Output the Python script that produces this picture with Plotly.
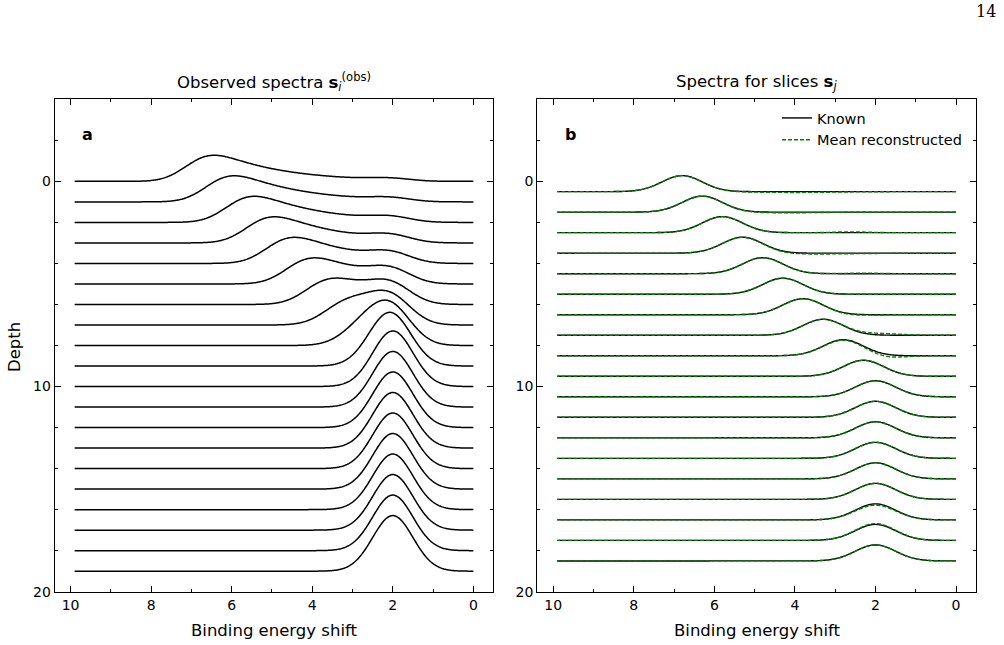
import numpy as np
import plotly.graph_objects as go

# ---------------- data ----------------
# slice spectra s_j : Gaussian peaks, one per slice (depth j + 0.5)
slice_depths = [0.5, 1.5, 2.5, 3.5, 4.5, 5.5, 6.5, 7.5, 8.5, 9.5,
                10.5, 11.5, 12.5, 13.5, 14.5, 15.5, 16.5, 17.5, 18.5]
slice_centers = [6.8, 6.3, 5.8, 5.3, 4.8, 4.3, 3.8, 3.3, 2.8, 2.3,
                 2.0, 2.0, 2.0, 2.0, 2.0, 2.0, 2.0, 2.0, 2.0]
slice_heights = [0.78] * 19
slice_width = 0.5          # Gaussian sigma (energy units)

# mean reconstructed: scale of main peak + small residual bump
recon_scale = [1.0, 1.0, 1.0, 1.0, 1.0, 1.0, 1.0, 0.99, 0.97, 1.0,
               1.0, 1.0, 1.0, 1.0, 1.0, 1.0, 0.92, 1.05, 1.0]
recon_dev_amp = [-0.04, -0.03, 0.04, -0.04, 0.03, 0.0, -0.03, 0.08, -0.1, 0.0,
                 0.0, 0.0, 0.0, 0.0, 0.0, 0.0, 0.0, 0.0, 0.0]
recon_dev_center = [4.0, 4.2, 2.6, 3.5, 2.3, 2.0, 2.5, 1.9, 1.7, 2.0,
                    2.0, 2.0, 2.0, 2.0, 2.0, 2.0, 2.0, 2.0, 2.0]
recon_dev_width = [1.0, 0.9, 0.4, 1.0, 0.4, 0.5, 0.5, 0.5, 0.4, 0.5,
                   0.5, 0.5, 0.5, 0.5, 0.5, 0.5, 0.5, 0.5, 0.5]

# observed spectra s_i^(obs) at depths 0..19: attenuated sums of slices below
obs_depths = list(range(20))
attenuation_factor = 0.73    # weight per slice of depth below
obs_scale = 0.938

x_tick_vals = [0, 2, 4, 6, 8, 10]
y_tick_vals = [0, 10, 20]

# ---------------- build curves ----------------
energy = np.linspace(0.0, 9.9, 500)


def gauss(c, h, s):
    return h * np.exp(-0.5 * ((energy - c) / s) ** 2)


known = [gauss(c, h, slice_width) for c, h in zip(slice_centers, slice_heights)]
recon = [sc * k + gauss(dc, da, dw) for sc, k, da, dc, dw in
         zip(recon_scale, known, recon_dev_amp, recon_dev_center, recon_dev_width)]

n_slices = len(known)
observed = []
for d in obs_depths:
    total = np.zeros_like(energy)
    for k in range(120):
        j = min(d + k, n_slices - 1)
        total += attenuation_factor ** k * known[j]
    observed.append(obs_scale * total)

fig = go.Figure()
for d, sp in zip(obs_depths, observed):
    fig.add_trace(go.Scatter(x=energy, y=d - sp, mode="lines",
                             line=dict(color="black", width=1.5, simplify=False),
                             showlegend=False, hoverinfo="skip",
                             xaxis="x", yaxis="y"))

for i, (d, k) in enumerate(zip(slice_depths, known)):
    fig.add_trace(go.Scatter(x=energy, y=d - k, mode="lines",
                             line=dict(color="black", width=1.4, simplify=False),
                             name="Known", showlegend=(i == 0),
                             hoverinfo="skip", xaxis="x2", yaxis="y2"))
for i, (d, r) in enumerate(zip(slice_depths, recon)):
    fig.add_trace(go.Scatter(x=energy, y=d - r, mode="lines",
                             line=dict(color="#008000", width=1.4, dash="4px,2px",
                                       simplify=False),
                             name="Mean reconstructed", showlegend=(i == 0),
                             hoverinfo="skip", xaxis="x2", yaxis="y2"))

W, H = 1004, 645
xl = [54.7 / W, 493.3 / W]
xr = [537.3 / W, 976.0 / W]
yd = [1 - 591.7 / H, 1 - 99.3 / H]

font = "DejaVu Sans"
TICK = 14
LABEL = 16.5


def xaxis(domain, anchor):
    return dict(domain=domain, anchor=anchor, range=[10.395, -0.495],
                automargin=False,
                tickvals=x_tick_vals, ticks="inside", ticklen=6, tickwidth=1,
                tickcolor="black", showline=True, linecolor="black", linewidth=1.2,
                mirror="allticks", showgrid=False, zeroline=False,
                minor=dict(dtick=1, tick0=0, ticks="inside", ticklen=3,
                           tickcolor="black", tickwidth=1, showgrid=False),
                tickfont=dict(family=font, size=TICK, color="black"))


def yaxis(anchor):
    return dict(domain=yd, anchor=anchor, range=[20, -4],
                automargin=False,
                tickvals=y_tick_vals, ticks="inside", ticklen=6, tickwidth=1,
                tickcolor="black", showline=True, linecolor="black", linewidth=1.2,
                mirror="allticks", showgrid=False, zeroline=False,
                minor=dict(dtick=2, tick0=0, ticks="inside", ticklen=3,
                           tickcolor="black", tickwidth=1, showgrid=False),
                tickfont=dict(family=font, size=TICK, color="black"))


def text(t, x, y, size=LABEL, **kw):
    return dict(text=t, x=x, y=y, xref="paper", yref="paper", xanchor="center",
                yanchor="middle", showarrow=False,
                font=dict(family=font, size=size, color="black"), **kw)


fig.update_layout(
    width=W, height=H, autosize=False,
    margin=dict(l=0, r=0, t=0, b=0, autoexpand=False),
    paper_bgcolor="white", plot_bgcolor="white",
    xaxis=xaxis(xl, "y"), yaxis=yaxis("x"),
    xaxis2=xaxis(xr, "y2"), yaxis2=yaxis("x2"),
    showlegend=True,
    legend=dict(x=777 / W, y=1 - 102 / H, xanchor="left", yanchor="top",
                bgcolor="rgba(0,0,0,0)", font=dict(family=font, size=14.5, color="black"),
                itemwidth=30, tracegroupgap=0),
    annotations=[
        text("Observed spectra <b>s</b><sub><i>i</i></sub><sup>(obs)</sup>",
             (xl[0] + xl[1]) / 2, 1 - 82 / H),
        text("Spectra for slices <b>s</b><sub><i>j</i></sub>",
             (xr[0] + xr[1]) / 2, 1 - 82 / H),
        text("Binding energy shift", (xl[0] + xl[1]) / 2, 1 - 630 / H),
        text("Binding energy shift", (xr[0] + xr[1]) / 2, 1 - 630 / H),
        text("Depth", 14 / W, 1 - 347 / H, textangle=-90),
        dict(text="<b>a</b>", x=9.58, y=-2.29, xref="x", yref="y", showarrow=False,
             font=dict(family=font, size=16, color="black")),
        dict(text="<b>b</b>", x=9.56, y=-2.29, xref="x2", yref="y2", showarrow=False,
             font=dict(family=font, size=16, color="black")),
        dict(text="14", x=998 / W, y=1 - 12 / H, xref="paper", yref="paper",
             xanchor="right", yanchor="middle", showarrow=False,
             font=dict(family="DejaVu Serif", size=16, color="black")),
    ],
)

fig.write_html("out.html", config={"responsive": False})
